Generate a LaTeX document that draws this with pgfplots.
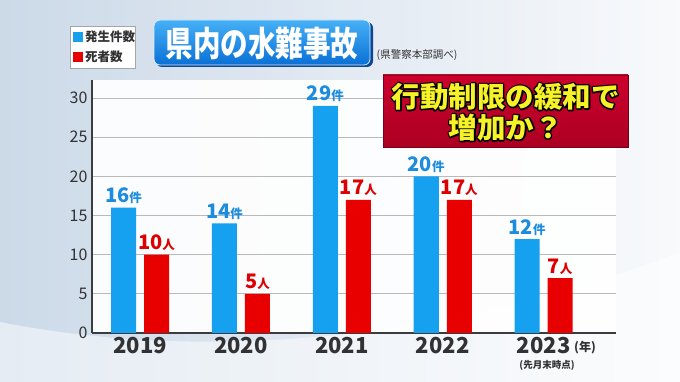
\documentclass[border=0pt]{standalone}
\usepackage{fontspec}
\setmainfont{Noto Sans CJK JP}
\usepackage{graphicx}
\usepackage{pgfplots}
\pgfplotsset{compat=1.18}
\definecolor{barblue}{RGB}{22,160,240}
\definecolor{barred}{RGB}{232,0,0}
\definecolor{lblblue}{RGB}{28,140,222}
\definecolor{lblred}{RGB}{222,0,0}
\definecolor{axisgray}{RGB}{60,60,62}
\definecolor{txtgray}{RGB}{50,50,52}
\definecolor{bgleft}{RGB}{182,202,223}
\definecolor{bgright}{RGB}{246,248,251}
\definecolor{ttop}{RGB}{70,176,246}
\definecolor{tbot}{RGB}{10,112,214}
\definecolor{tshadow}{RGB}{12,70,150}
\definecolor{rtop}{RGB}{204,0,44}
\definecolor{rbot}{RGB}{172,0,34}
\definecolor{callyellow}{RGB}{246,242,40}
\newcommand{\stroked}[1]{\rlap{\special{pdf:literal direct 0 0 0 RG 1 Tr 2.8 w 1 j}#1\special{pdf:literal direct 0 Tr}}#1}
\begin{document}
\begin{tikzpicture}[x=1pt,y=1pt]
\useasboundingbox (0,0) rectangle (680,382);
% background
\shade[left color=bgleft, right color=bgright] (0,0) rectangle (680,382);
\shade[top color=white, bottom color=white, middle color=white, opacity=0.3] (0,0) rectangle (680,382);
\fill[white, opacity=0.5] (0,60) .. controls (200,20) and (450,40) .. (680,130) -- (680,0) -- (0,0) -- cycle;
% legend
\draw[gray!70, fill=white, line width=0.8pt] (70,314) rectangle (135,356);
\fill[barblue] (73,340) rectangle (83,350);
\node[anchor=west, font=\fontsize{12.5}{13}\selectfont\bfseries, text=txtgray, inner sep=0] at (85,345.5) {発生件数};
\fill[barred] (73,320) rectangle (83,330);
\node[anchor=west, font=\fontsize{12.5}{13}\selectfont\bfseries, text=txtgray, inner sep=0] at (85,325.5) {死者数};
% title box
\fill[tshadow, rounded corners=6pt] (156,315) rectangle (373,360);
\shade[top color=ttop, bottom color=tbot, rounded corners=6pt, draw=white!80!ttop, line width=0.8pt] (154,317) rectangle (370,362);
\node[text=white, font=\fontsize{27.5}{30}\selectfont\bfseries, inner sep=0] at (262,338.5) {\scalebox{1}[1.25]{県内の水難事故}};
\node[text=txtgray, font=\fontsize{10.5}{12}\selectfont, inner sep=0] at (417,327) {(県警察本部調べ)};
\begin{axis}[
  at={(92pt,49pt)}, anchor=south west,
  scale only axis, width=524pt, height=253pt,
  /pgf/number format/assume math mode=true,
  ymin=0, ymax=32.3, xmin=-0.476, xmax=4.717,
  axis x line*=bottom, axis y line*=left,
  axis line style={axisgray, line width=2.6pt},
  axis background/.style={fill=white, fill opacity=0.92},
  major tick length=0pt,
  ytick={0,5,10,15,20,25,30},
  xtick={0,1,2,3,4},
  xticklabels={2019,2020,2021,2022,2023},
  yticklabel style={font=\fontsize{16}{16}\selectfont, text=txtgray, xshift=-1pt},
  xticklabel style={font=\fontsize{22}{24}\selectfont\bfseries, text=txtgray, yshift=-1pt},
  ymajorgrids, grid style={gray!55, line width=0.9pt},
  ybar=8pt, bar width=25pt,
  clip=false,
  nodes near coords,
  every node near coord/.append style={inner sep=0pt, anchor=base, yshift=5pt},
]
\addplot[fill=barblue, draw=none,
  nodes near coords={\textcolor{lblblue}{\bfseries\fontsize{20}{20}\selectfont\pgfmathprintnumber{\pgfplotspointmeta}{\fontsize{12.5}{13}\selectfont 件}}}]
  coordinates {(0,16) (1,14) (2,29) (3,20) (4,12)};
\addplot[fill=barred, draw=none,
  nodes near coords={\textcolor{lblred}{\bfseries\fontsize{20}{20}\selectfont\pgfmathprintnumber{\pgfplotspointmeta}{\fontsize{12.5}{13}\selectfont 人}}}]
  coordinates {(0,10) (1,5) (2,17) (3,17) (4,7)};
\end{axis}
\node[text=txtgray, font=\fontsize{12}{13}\selectfont\bfseries, inner sep=0] at (585,34) {(年)};
\node[text=txtgray, font=\fontsize{9.5}{10}\selectfont\bfseries, inner sep=0] at (547,17) {(先月末時点)};
% callout
\shade[top color=rtop, bottom color=rbot, draw=rbot!70!black, line width=0.8pt] (383,235) rectangle (628,307);
\node[text=callyellow, font=\fontsize{28.5}{31}\selectfont\bfseries, inner sep=0, align=center] at (505.5,270)
  {\stroked{行動制限の緩和で}\\[0pt]\stroked{増加か？}};
\end{tikzpicture}
\end{document}
